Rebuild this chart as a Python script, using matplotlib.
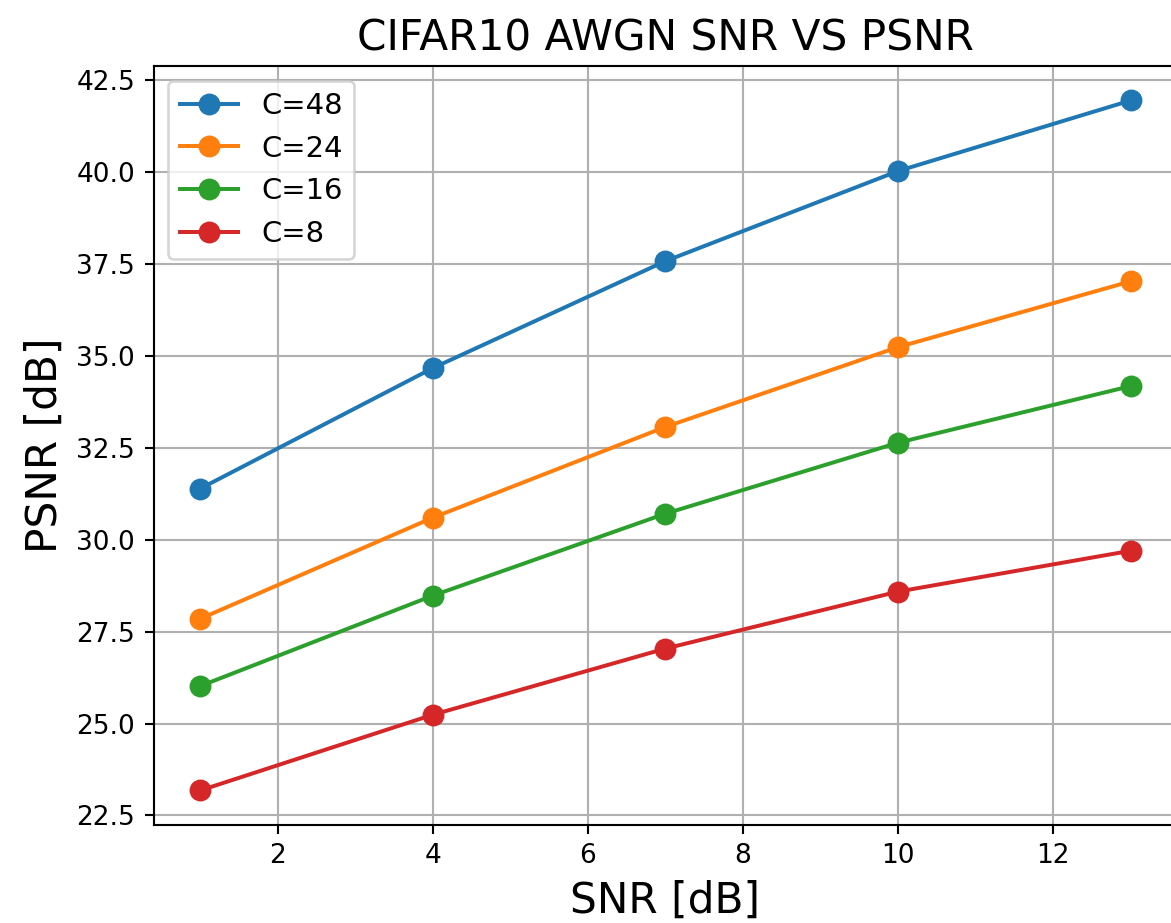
import matplotlib.pyplot as plt
import numpy as np

snr = [1, 4, 7, 10, 13]
labels = ["C=48", "C=24", "C=16", "C=8"]
psnr_c48 = [31.39, 34.67, 37.58, 40.03, 41.95]
psnr_c24 = [27.85, 30.60, 33.07, 35.24, 37.03]
psnr_c16 = [26.02, 28.48, 30.71, 32.64, 34.18]
psnr_c8 = [23.18, 25.24, 27.04, 28.59, 29.70]

dpi = 190
fig = plt.figure(figsize=(1171 / dpi, 923 / dpi), dpi=dpi)
ax = fig.add_axes([0.1312, 0.1062, 0.874, 0.8223])

for vals, lab in zip([psnr_c48, psnr_c24, psnr_c16, psnr_c8], labels):
    ax.plot(snr, vals, marker='o', markersize=7.3, label=lab)

ax.set_title("CIFAR10 AWGN SNR VS PSNR", fontsize=16)
ax.set_xlabel("SNR [dB]", fontsize=16)
ax.set_ylabel("PSNR [dB]", fontsize=16)
ax.grid(True)
ax.legend(loc='upper left', fontsize=11)

fig.savefig("out.png", dpi=dpi)
